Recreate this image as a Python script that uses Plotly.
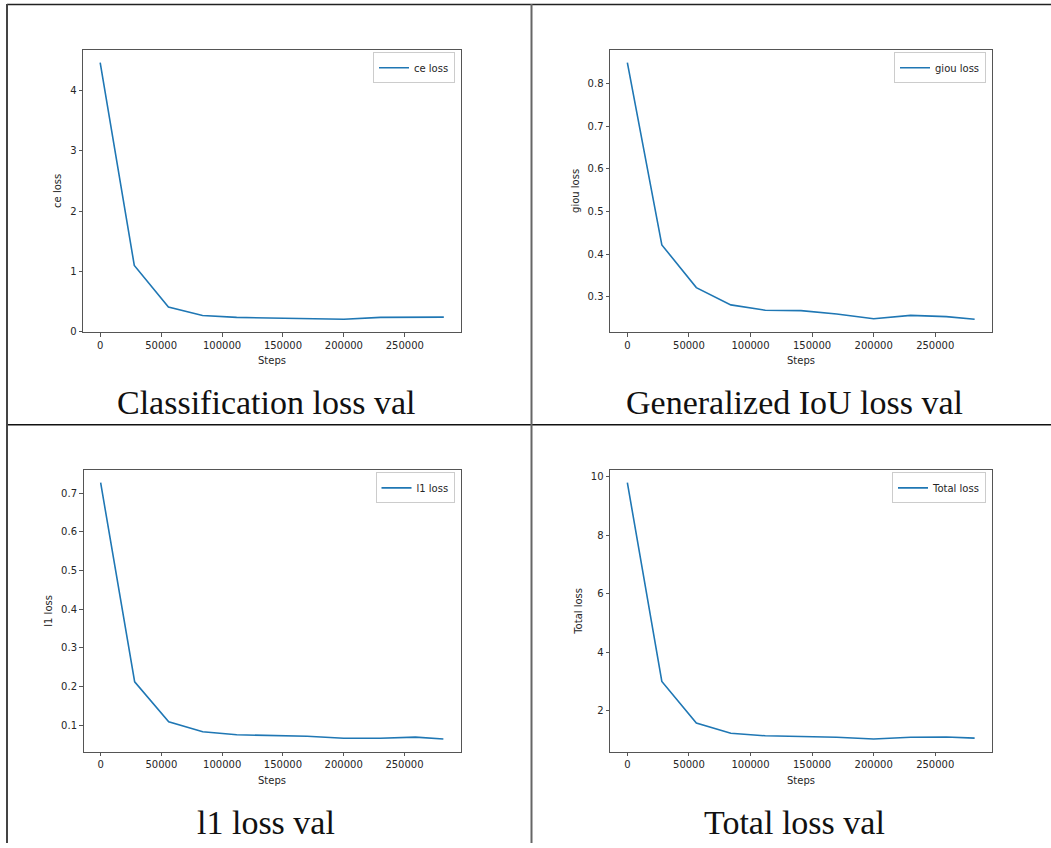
import plotly.graph_objects as go

# ---- data ----
steps = [0, 28000, 56000, 84000, 112000, 141000, 170000, 200000, 230000, 259000, 282000]
ce_loss = [4.46, 1.10, 0.41, 0.27, 0.24, 0.23, 0.225, 0.21, 0.24, 0.245, 0.245]
giou_loss = [0.849, 0.422, 0.322, 0.2815, 0.269, 0.268, 0.26, 0.249, 0.257, 0.254, 0.248]
l1_loss = [0.7275, 0.212, 0.1085, 0.083, 0.075, 0.0735, 0.071, 0.066, 0.066, 0.069, 0.064]
total_loss = [9.8, 3.0, 1.58, 1.23, 1.14, 1.12, 1.09, 1.03, 1.09, 1.10, 1.06]

series_names = ["ce loss", "giou loss", "l1 loss", "Total loss"]
captions = ["Classification loss val", "Generalized IoU loss val", "l1 loss val", "Total loss val"]
x_ticks = [0, 50000, 100000, 150000, 200000, 250000]
y_ticks = [
    [0, 1, 2, 3, 4],
    [0.3, 0.4, 0.5, 0.6, 0.7, 0.8],
    [0.1, 0.2, 0.3, 0.4, 0.5, 0.6, 0.7],
    [2, 4, 6, 8, 10],
]
y_tick_fmt = ["d", ".1f", ".1f", "d"]
all_series = [ce_loss, giou_loss, l1_loss, total_loss]

W, H = 1051, 848

# axes boxes in pixels (left, right, top, bottom)
boxes = [
    (83, 461, 50, 334),
    (610, 992, 50, 334),
    (83.5, 460.5, 472.7, 756.3),
    (610, 992, 472.7, 756.3),
]
caption_pos = [(266, 405), (794, 405), (266, 827), (794, 827)]

fig = go.Figure()
axis_font = dict(family="DejaVu Sans", size=10, color="#262626")

for i, (vals, name) in enumerate(zip(all_series, series_names)):
    k = "" if i == 0 else str(i + 1)
    leg = "legend" if i == 0 else f"legend{i + 1}"
    fig.add_trace(go.Scatter(
        x=steps, y=vals, mode="lines", name=name,
        line=dict(color="#1f77b4", width=1.6),
        xaxis="x" + k, yaxis="y" + k, legend=leg, showlegend=True,
    ))
    l, r, t, b = boxes[i]
    xmin, xmax = min(steps), max(steps)
    xpad = 0.05 * (xmax - xmin)
    ymin, ymax = min(vals), max(vals)
    ypad = 0.05 * (ymax - ymin)
    common = dict(
        showline=True, mirror=True, linecolor="#555", linewidth=1,
        ticks="outside", ticklen=3.5, tickwidth=1, tickcolor="#555",
        showgrid=False, zeroline=False, tickfont=axis_font,
    )
    fig.update_layout({
        "xaxis" + k: dict(
            domain=[l / W, r / W], anchor="y" + k,
            range=[xmin - xpad, xmax + xpad],
            tickvals=x_ticks, tickformat="d",
            title=dict(text="Steps", font=axis_font, standoff=7),
            **common,
        ),
        "yaxis" + k: dict(
            domain=[1 - b / H, 1 - t / H], anchor="x" + k,
            range=[ymin - ypad, ymax + ypad],
            tickvals=y_ticks[i], tickformat=y_tick_fmt[i],
            title=dict(text=name, font=axis_font, standoff=6),
            **common,
        ),
        leg: dict(
            x=(r - 6) / W, y=1 - (t + 2.5) / H, xanchor="right", yanchor="top",
            bgcolor="white", bordercolor="#cccccc", borderwidth=1,
            font=dict(family="DejaVu Sans", size=10, color="#262626"),
        ),
    })
    cx, cy = caption_pos[i]
    fig.add_annotation(
        text=captions[i], x=cx / W, y=1 - cy / H, xref="paper", yref="paper",
        xanchor="center", yanchor="middle", showarrow=False,
        font=dict(family="Liberation Serif", size=34, color="#111"),
    )

# table borders
shapes = [
    dict(type="line", xref="paper", yref="paper", x0=7 / W, x1=1, y0=1 - 4.5 / H, y1=1 - 4.5 / H,
         line=dict(color="#222", width=1.5)),
    dict(type="line", xref="paper", yref="paper", x0=7 / W, x1=1, y0=1 - 427.3 / H, y1=1 - 427.3 / H,
         line=dict(color="#111", width=1.5)),
    dict(type="line", xref="paper", yref="paper", x0=7 / W, x1=7 / W, y0=0, y1=1 - 4 / H,
         line=dict(color="#444", width=2)),
    dict(type="line", xref="paper", yref="paper", x0=531.5 / W, x1=531.5 / W, y0=0, y1=1 - 4 / H,
         line=dict(color="#666", width=2)),
]

fig.update_layout(
    width=W, height=H, autosize=False,
    margin=dict(l=0, r=0, t=0, b=0),
    paper_bgcolor="white", plot_bgcolor="white",
    shapes=shapes,
)

fig.write_html("out.html", config={"displayModeBar": False},
               post_script="document.body.style.margin='0';")
